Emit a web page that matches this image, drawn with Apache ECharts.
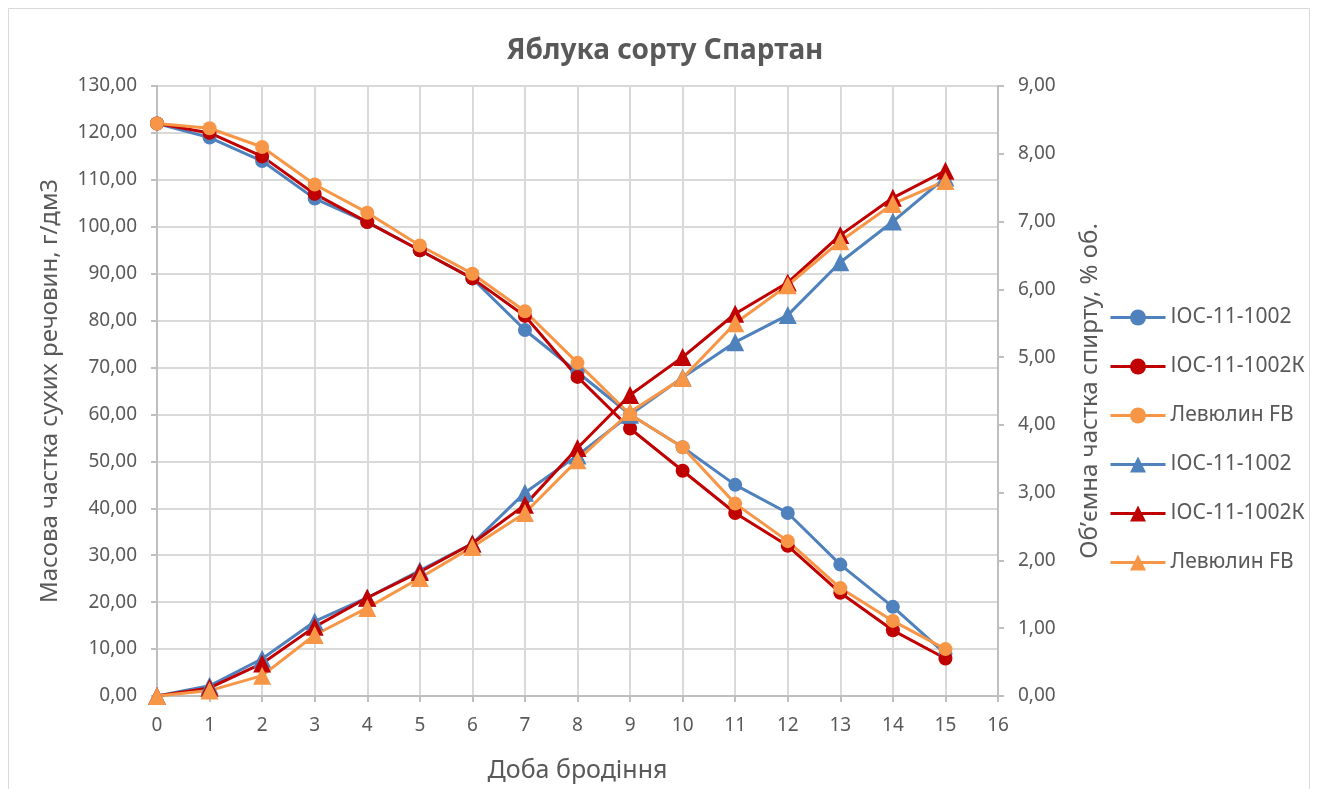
<!DOCTYPE html>
<html>
<head>
<meta charset="utf-8">
<script src="https://cdn.jsdelivr.net/npm/echarts@6/dist/echarts.min.js"></script>
<style>
  html, body { margin: 0; padding: 0; background: #fff; }
  #chart { width: 1317px; height: 789px; }
</style>
</head>
<body>
<div id="chart"></div>
<script>
// доба бродіння
const days = [0, 1, 2, 3, 4, 5, 6, 7, 8, 9, 10, 11, 12, 13, 14, 15];
// масова частка сухих речовин, г/дм3 (ліва вісь)
const dryIoc = [122, 119, 114, 106, 101, 95, 89, 78, 69, 60, 53, 45, 39, 28, 19, 9];
const dryIocK = [122, 120, 115, 107, 101, 95, 89, 81, 68, 57, 48, 39, 32, 22, 14, 8];
const dryLev = [122, 121, 117, 109, 103, 96, 90, 82, 71, 60, 53, 41, 33, 23, 16, 10];
// об'ємна частка спирту, % об. (права вісь)
const alcIoc = [0, 0.15, 0.55, 1.1, 1.45, 1.85, 2.25, 3.0, 3.55, 4.15, 4.7, 5.22, 5.62, 6.4, 7.0, 7.65];
const alcIocK = [0, 0.12, 0.48, 1.02, 1.45, 1.83, 2.25, 2.82, 3.66, 4.44, 5.0, 5.64, 6.1, 6.8, 7.35, 7.75];
const alcLev = [0, 0.08, 0.3, 0.9, 1.3, 1.74, 2.2, 2.7, 3.48, 4.19, 4.69, 5.5, 6.06, 6.71, 7.26, 7.6];

const names = ['ІОС-11-1002', 'ІОС-11-1002К', 'Левюлин FB'];
const colors = ['#4f81bd', '#c00000', '#f79646'];

const font = 'Noto Sans';
const txt = '#595959';
const fmt = v => v.toFixed(2).replace('.', ',');
const pairs = arr => days.map((d, i) => [d, arr[i]]);

const mkSeries = (name, arr, color, symbol, yIdx, size) => ({
    name: name,
    type: 'line',
    yAxisIndex: yIdx,
    data: pairs(arr),
    symbol: symbol,
    symbolSize: size,
    showAllSymbol: true,
    lineStyle: { width: 3, color: color },
    itemStyle: { color: color },
    emphasis: { disabled: true },
});

const chart = echarts.init(document.getElementById('chart'));
chart.setOption({
    animation: false,
    textStyle: { fontFamily: font },
    title: {
        text: 'Яблука сорту Спартан',
        left: 660,
        textAlign: 'center',
        top: 32,
        textStyle: { fontFamily: font, fontSize: 28, fontWeight: 'bold', color: txt },
    },
    graphic: [{
        type: 'rect',
        shape: { x: 8.5, y: 8.5, width: 1301, height: 790 },
        style: { fill: 'none', stroke: '#d9d9d9', lineWidth: 1 },
        silent: true,
    }],
    grid: { left: 157, right: 319, top: 86, bottom: 93 },
    legend: {
        orient: 'vertical',
        left: 1104,
        top: 302,
        itemWidth: 55,
        itemHeight: 20,
        itemGap: 28,
        lineStyle: { width: 3 },
        textStyle: { fontFamily: font, fontSize: 21, color: txt },
        data: [names[0], names[1], names[2], names[0] + ' ', names[1] + ' ', names[2] + ' '],
    },
    xAxis: {
        type: 'value',
        min: 0,
        max: 16,
        interval: 1,
        name: 'Доба бродіння',
        nameLocation: 'middle',
        nameGap: 62,
        nameTextStyle: { fontFamily: font, fontSize: 25, color: txt },
        axisLine: { show: true, onZero: false, lineStyle: { color: '#bfbfbf', width: 2 } },
        axisTick: { show: true, length: 6, lineStyle: { color: '#bfbfbf', width: 2 } },
        axisLabel: { fontFamily: font, fontSize: 19, color: txt, margin: 20 },
        splitLine: { show: true, lineStyle: { color: '#d9d9d9', width: 2 } },
    },
    yAxis: [{
        type: 'value',
        min: 0,
        max: 130,
        interval: 10,
        name: 'Масова частка сухих речовин, г/дм3',
        nameLocation: 'middle',
        nameGap: 95,
        nameTextStyle: { fontFamily: font, fontSize: 24, color: txt },
        axisLine: { show: true, lineStyle: { color: '#bfbfbf', width: 2 } },
        axisTick: { show: true, length: 6, lineStyle: { color: '#bfbfbf', width: 2 } },
        axisLabel: { fontFamily: font, fontSize: 19, color: txt, formatter: fmt, margin: 20 },
        splitLine: { show: true, lineStyle: { color: '#d9d9d9', width: 2 } },
    }, {
        type: 'value',
        min: 0,
        max: 9,
        interval: 1,
        position: 'right',
        name: 'Об’ємна частка спирту, % об.',
        nameLocation: 'middle',
        nameGap: 80,
        nameTextStyle: { fontFamily: font, fontSize: 24, color: txt },
        axisLine: { show: true, lineStyle: { color: '#bfbfbf', width: 2 } },
        axisTick: { show: true, length: 6, lineStyle: { color: '#bfbfbf', width: 2 } },
        axisLabel: { fontFamily: font, fontSize: 19, color: txt, formatter: fmt, margin: 20 },
        splitLine: { show: false },
    }],
    series: [
        mkSeries(names[0], dryIoc, colors[0], 'circle', 0, 14),
        mkSeries(names[1], dryIocK, colors[1], 'circle', 0, 14),
        mkSeries(names[2], dryLev, colors[2], 'circle', 0, 14),
        mkSeries(names[0] + ' ', alcIoc, colors[0], 'triangle', 1, 18),
        mkSeries(names[1] + ' ', alcIocK, colors[1], 'triangle', 1, 18),
        mkSeries(names[2] + ' ', alcLev, colors[2], 'triangle', 1, 18),
    ],
});
</script>
</body>
</html>
